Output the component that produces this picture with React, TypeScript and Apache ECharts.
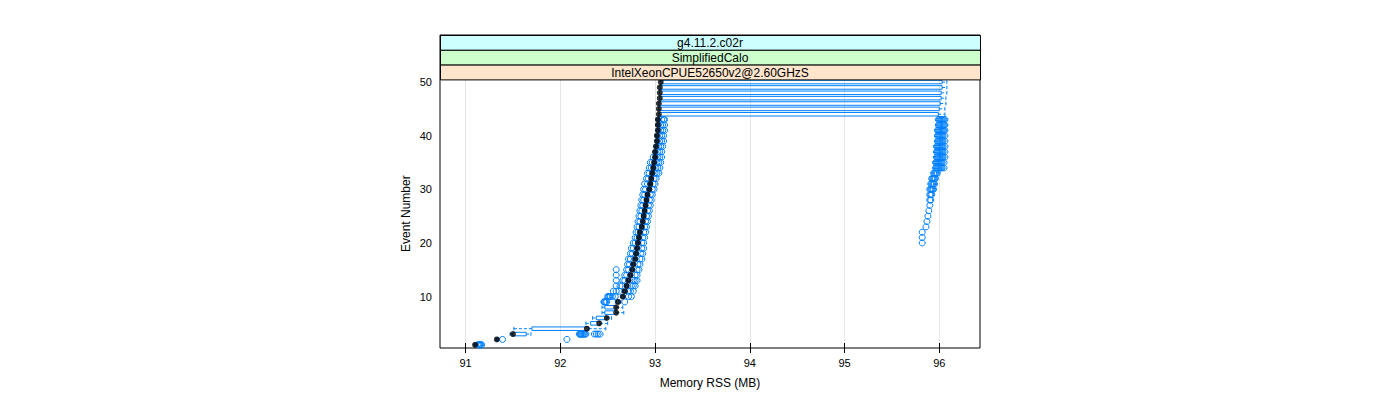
import React, { useEffect, useRef } from "react";
import * as echarts from "echarts";

const eventNumbers = [
  1, 2, 3, 4, 5, 6, 7, 8, 9, 10, 11, 12, 13, 14, 15, 16, 17, 18, 19, 20, 21, 22, 23, 24, 25,
  26, 27, 28, 29, 30, 31, 32, 33, 34, 35, 36, 37, 38, 39, 40, 41, 42, 43, 44, 45, 46, 47, 48, 49, 50,
];

const medianRss = [
  91.10, 91.33, 91.50, 92.28, 92.41, 92.49, 92.59, 92.59, 92.61, 92.66, 92.68, 92.70, 92.72, 92.74, 92.76,
  92.77, 92.79, 92.80, 92.81, 92.82, 92.83, 92.84, 92.86, 92.87, 92.88, 92.89, 92.90, 92.91, 92.92, 92.94,
  92.95, 92.96, 92.97, 92.98, 92.99, 93.00, 93.00, 93.01, 93.02, 93.02, 93.03, 93.03, 93.03, 93.04, 93.04,
  93.04, 93.05, 93.05, 93.05, 93.06,
];

const lowerHinge = [
  91.10, 91.33, 91.50, 91.70, 92.32, 92.38, 92.47, 92.47, 92.59, 92.65, 92.67, 92.69, 92.71, 92.73, 92.75,
  92.76, 92.78, 92.79, 92.80, 92.81, 92.82, 92.83, 92.85, 92.86, 92.87, 92.88, 92.89, 92.90, 92.91, 92.93,
  92.94, 92.95, 92.96, 92.97, 92.98, 92.99, 92.99, 93.00, 93.01, 93.01, 93.02, 93.02, 93.02, 93.04, 93.04,
  93.04, 93.05, 93.05, 93.05, 93.06,
];

const upperHinge = [
  91.12, 91.34, 91.64, 92.30, 92.42, 92.49, 92.59, 92.59, 92.62, 92.67, 92.69, 92.71, 92.73, 92.75, 92.77,
  92.78, 92.80, 92.81, 92.82, 92.83, 92.84, 92.85, 92.87, 92.88, 92.89, 92.90, 92.91, 92.92, 92.93, 92.95,
  92.96, 92.97, 92.98, 92.99, 93.00, 93.01, 93.01, 93.02, 93.03, 93.03, 93.04, 93.04, 93.04, 95.99, 96.00,
  96.01, 96.02, 96.02, 96.03, 96.03,
];

const lowerWhisker = [
  91.09, 91.32, 91.47, 91.51, 92.27, 92.34, 92.44, 92.44, 92.58, 92.64, 92.66, 92.68, 92.70, 92.72, 92.74,
  92.75, 92.77, 92.78, 92.79, 92.80, 92.81, 92.82, 92.84, 92.85, 92.86, 92.87, 92.88, 92.89, 92.90, 92.92,
  92.93, 92.94, 92.95, 92.96, 92.97, 92.98, 92.98, 92.99, 93.00, 93.00, 93.01, 93.01, 93.01, 93.04, 93.04,
  93.04, 93.05, 93.05, 93.05, 93.06,
];

const upperWhisker = [
  91.13, 91.35, 91.69, 92.48, 92.50, 92.54, 92.67, 92.66, 92.64, 92.68, 92.70, 92.72, 92.74, 92.76, 92.78,
  92.79, 92.81, 92.82, 92.83, 92.84, 92.85, 92.86, 92.88, 92.89, 92.90, 92.91, 92.92, 92.93, 92.94, 92.96,
  92.97, 92.98, 92.99, 93.00, 93.01, 93.02, 93.02, 93.03, 93.04, 93.04, 93.05, 93.05, 93.05, 96.06, 96.06,
  96.07, 96.07, 96.08, 96.08, 96.08,
];

const outlierRss: number[][] = [
  [91.13, 91.14, 91.145, 91.15, 91.16, 91.17],
  [91.39, 92.07],
  [92.2, 92.21, 92.215, 92.22, 92.23, 92.24, 92.25, 92.26, 92.27, 92.36, 92.38, 92.4, 92.42],
  [],
  [],
  [],
  [],
  [],
  [92.46, 92.465, 92.47, 92.48, 92.49, 92.68],
  [92.5, 92.51, 92.52, 92.53, 92.55, 92.58, 92.72, 92.75],
  [92.56, 92.59, 92.62, 92.72, 92.74, 92.77],
  [92.59, 92.63, 92.65, 92.75, 92.77, 92.79],
  [92.59, 92.66, 92.68, 92.77, 92.79, 92.81],
  [92.59, 92.68, 92.7, 92.79, 92.81],
  [92.59, 92.7, 92.72, 92.81, 92.83],
  [92.71, 92.73, 92.82, 92.84],
  [92.72, 92.74, 92.84, 92.86],
  [92.74, 92.76, 92.85, 92.87],
  [92.75, 92.77, 92.86, 92.88],
  [92.77, 92.79, 92.86, 92.88, 95.82],
  [92.79, 92.81, 92.87, 92.89, 95.82],
  [92.8, 92.82, 92.88, 92.9, 95.82],
  [92.81, 92.83, 92.89, 92.91, 95.86],
  [92.82, 92.84, 92.9, 92.92, 95.87],
  [92.83, 92.85, 92.91, 92.93, 95.88],
  [92.84, 92.86, 92.92, 92.94, 95.89],
  [92.85, 92.87, 92.93, 92.95, 95.9],
  [92.86, 92.88, 92.94, 92.96, 95.9, 95.91],
  [92.87, 92.89, 92.95, 92.97, 95.9, 95.91, 95.92],
  [92.88, 92.9, 92.97, 92.99, 95.9, 95.91, 95.92, 95.93, 95.94],
  [92.89, 92.92, 92.98, 93.0, 95.91, 95.92, 95.93, 95.94, 95.95],
  [92.91, 92.93, 92.99, 93.01, 95.92, 95.93, 95.94, 95.95, 95.96],
  [92.92, 92.94, 93.0, 93.02, 93.04, 95.94, 95.95, 95.96, 95.97, 95.98],
  [92.94, 92.96, 93.01, 93.03, 93.05, 95.96, 95.97, 95.98, 95.99, 96.0, 96.01, 96.02, 96.03, 96.05],
  [92.95, 92.97, 93.02, 93.04, 93.06, 95.96, 95.97, 95.98, 95.99, 96.0, 96.01, 96.02, 96.03, 96.05],
  [92.98, 93.03, 93.05, 93.07, 95.97, 95.98, 95.99, 96.0, 96.01, 96.02, 96.03, 96.04, 96.06],
  [93.03, 93.05, 93.07, 95.97, 95.98, 95.99, 96.0, 96.01, 96.02, 96.03, 96.04, 96.06],
  [93.04, 93.06, 93.08, 95.97, 95.98, 95.99, 96.0, 96.01, 96.02, 96.03, 96.04, 96.06],
  [93.05, 93.07, 93.09, 95.98, 95.99, 96.0, 96.01, 96.02, 96.03, 96.04, 96.06],
  [93.05, 93.07, 93.09, 95.98, 95.99, 96.0, 96.01, 96.02, 96.03, 96.04, 96.06],
  [93.06, 93.08, 93.1, 95.98, 95.99, 96.0, 96.01, 96.02, 96.03, 96.04, 96.05, 96.06],
  [93.06, 93.08, 93.1, 95.99, 96.0, 96.01, 96.02, 96.03, 96.04, 96.05, 96.06],
  [93.07, 93.09, 93.1, 95.99, 96.0, 96.01, 96.02, 96.03, 96.04, 96.05, 96.06],
  [],
  [],
  [],
  [],
  [],
  [],
  [],
];

const xTickValues = [91, 92, 93, 94, 95, 96];
const yTickValues = [10, 20, 30, 40, 50];
const stripLabels = ["g4.11.2.c02r", "SimplifiedCalo", "IntelXeonCPUE52650v2@2.60GHzS"];
const stripColors = ["#ccffff", "#ccffcc", "#ffe5cc"];

const BLUE = "#0080ff";
const FONT = '"Liberation Sans", Arial, Helvetica, sans-serif';

export default function App() {
  const ref = useRef<HTMLDivElement>(null);

  useEffect(() => {
    document.body.style.margin = "0";
    if (!ref.current) return;
    const chart = echarts.init(ref.current, undefined, { renderer: "svg" });

    const boxData = eventNumbers.map((e, i) => [
      e,
      lowerWhisker[i],
      lowerHinge[i],
      upperHinge[i],
      upperWhisker[i],
    ]);
    const outlierData: number[][] = [];
    eventNumbers.forEach((e, i) => {
      outlierRss[i].forEach((v) => outlierData.push([v, e]));
    });
    const medianData = eventNumbers.map((e, i) => [medianRss[i], e]);

    const panelLeft = 440;
    const panelRight = 980;
    const panelTop = 35;
    const stripH = 14.8;
    const panelBottom = 348;

    const graphics: any[] = [];
    stripLabels.forEach((s, i) => {
      graphics.push({
        type: "rect",
        z: 100,
        shape: { x: panelLeft + 0.5, y: panelTop + 0.5 + i * stripH, width: panelRight - panelLeft, height: stripH },
        style: { fill: stripColors[i], stroke: "#000", lineWidth: 1 },
      });
      graphics.push({
        type: "text",
        z: 101,
        x: (panelLeft + panelRight) / 2,
        y: panelTop + i * stripH + stripH / 2 + 1,
        style: {
          text: s,
          font: `12px ${FONT}`,
          fill: "#000",
          align: "center",
          verticalAlign: "middle",
        },
      });
    });

    const option: any = {
      animation: false,
      textStyle: { fontFamily: FONT },
      graphic: graphics,
      grid: [
        {
          left: panelLeft,
          right: 1400 - panelRight,
          top: panelTop + 3 * stripH,
          bottom: 400 - panelBottom,
          show: false,
        },
        {
          left: panelLeft,
          right: 1400 - panelRight,
          top: panelTop,
          bottom: 400 - panelBottom,
          show: true,
          borderColor: "#000",
          borderWidth: 1,
          backgroundColor: "transparent",
        },
      ],
      xAxis: [
        {
          type: "value",
          gridIndex: 0,
          min: 90.73,
          max: 96.43,
          position: "bottom",
          axisLine: { show: false },
          axisTick: {
            show: true,
            customValues: xTickValues,
            length: 5,
            lineStyle: { color: "#000" },
          },
          axisLabel: {
            customValues: xTickValues,
            fontSize: 11,
            color: "#000",
            margin: 9,
            fontFamily: FONT,
          },
          splitLine: { show: true, lineStyle: { color: "#e6e6e6", width: 1 } },
          name: "Memory RSS (MB)",
          nameLocation: "middle",
          nameGap: 29,
          nameTextStyle: { fontSize: 12, color: "#000", fontFamily: FONT },
        },
        {
          type: "value",
          gridIndex: 1,
          min: 90.73,
          max: 96.43,
          position: "top",
          axisLine: { show: false },
          axisTick: {
            show: true,
            customValues: xTickValues,
            length: 5,
            lineStyle: { color: "#000" },
          },
          axisLabel: { show: false },
          splitLine: { show: false },
        },
      ],
      yAxis: [
        {
          type: "value",
          gridIndex: 0,
          min: 0.4,
          max: 50.5,
          axisLine: { show: false },
          axisTick: { show: false, customValues: yTickValues },
          axisLabel: {
            customValues: yTickValues,
            fontSize: 11,
            color: "#000",
            margin: 8,
            fontFamily: FONT,
          },
          splitLine: { show: false },
          name: "Event Number",
          nameLocation: "middle",
          nameGap: 28,
          nameTextStyle: { fontSize: 12, color: "#000", fontFamily: FONT },
        },
        {
          type: "value",
          gridIndex: 1,
          min: 0,
          max: 1,
          show: false,
        },
      ],
      series: [
        {
          type: "custom",
          xAxisIndex: 0,
          yAxisIndex: 0,
          data: boxData,
          encode: { x: [1, 2, 3, 4], y: 0 },
          renderItem: (params: any, api: any) => {
            const y = api.value(0);
            const lo = api.coord([api.value(1), y]);
            const q1 = api.coord([api.value(2), y]);
            const q3 = api.coord([api.value(3), y]);
            const hi = api.coord([api.value(4), y]);
            const top = api.coord([api.value(2), y + 0.33]);
            const half = Math.abs(top[1] - q1[1]);
            const cy = q1[1];
            const children: any[] = [];
            const lineStyle = { stroke: BLUE, lineWidth: 1, fill: "none" };
            const dashStyle = { stroke: BLUE, lineWidth: 1, lineDash: [3, 2], fill: "none" };
            if (q3[0] - q1[0] > 0.5) {
              children.push({
                type: "rect",
                shape: { x: q1[0], y: cy - half, width: q3[0] - q1[0], height: 2 * half },
                style: lineStyle,
              });
            }
            if (q1[0] - lo[0] > 0.5) {
              children.push({
                type: "line",
                shape: { x1: lo[0], y1: cy, x2: q1[0], y2: cy },
                style: dashStyle,
              });
              children.push({
                type: "line",
                shape: { x1: lo[0], y1: cy - half, x2: lo[0], y2: cy + half },
                style: lineStyle,
              });
            }
            if (hi[0] - q3[0] > 0.5) {
              children.push({
                type: "line",
                shape: { x1: q3[0], y1: cy, x2: hi[0], y2: cy },
                style: dashStyle,
              });
              children.push({
                type: "line",
                shape: { x1: hi[0], y1: cy - half, x2: hi[0], y2: cy + half },
                style: lineStyle,
              });
            }
            return { type: "group", children };
          },
          z: 2,
        },
        {
          type: "scatter",
          xAxisIndex: 0,
          yAxisIndex: 0,
          data: outlierData,
          symbol: "circle",
          symbolSize: 6,
          itemStyle: { color: "rgba(0,0,0,0)", borderColor: BLUE, borderWidth: 1, opacity: 1 },
          z: 3,
        },
        {
          type: "scatter",
          xAxisIndex: 0,
          yAxisIndex: 0,
          data: medianData,
          symbol: "circle",
          symbolSize: 6,
          itemStyle: { color: "#000", borderWidth: 0 },
          z: 4,
        },
      ],
    };

    chart.setOption(option);
    return () => {
      chart.dispose();
    };
  }, []);

  return <div ref={ref} style={{ width: 1400, height: 400 }} />;
}
